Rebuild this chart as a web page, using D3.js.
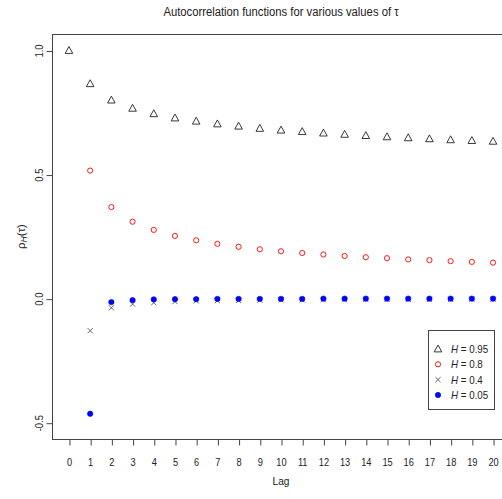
<!DOCTYPE html>
<html>
<head>
<meta charset="utf-8">
<script src="https://cdn.jsdelivr.net/npm/d3@7"></script>
<style>
  html, body { margin: 0; padding: 0; background: #fff; }
  svg { display: block; }
  text { font-family: "Liberation Sans Narrow", "Arial Narrow", "Liberation Sans", sans-serif; fill: #222; }
</style>
</head>
<body>
<script>
// ---- data ----
const lagsAll = [0,1,2,3,4,5,6,7,8,9,10,11,12,13,14,15,16,17,18,19,20];
const lags = [1,2,3,4,5,6,7,8,9,10,11,12,13,14,15,16,17,18,19,20];
const xTicks = [0,1,2,3,4,5,6,7,8,9,10,11,12,13,14,15,16,17,18,19,20];
const yTicks = [-0.5, 0.0, 0.5, 1.0];
const yTickLabels = ["-0.5", "0.0", "0.5", "1.0"];
const H095 = [1.000,0.866,0.800,0.767,0.745,0.728,0.715,0.704,0.695,0.686,0.679,0.673,0.667,0.662,0.657,0.652,0.648,0.644,0.640,0.637,0.634];
const H08  = [0.516,0.369,0.310,0.277,0.253,0.235,0.221,0.209,0.199,0.191,0.184,0.178,0.172,0.167,0.163,0.158,0.155,0.151,0.148,0.145];
const H04  = [-0.129,-0.037,-0.022,-0.016,-0.012,-0.009,-0.008,-0.007,-0.006,-0.005,-0.005,-0.004,-0.004,-0.003,-0.003,-0.003,-0.003,-0.003,-0.002,-0.002];
const H005 = [-0.464,-0.014,-0.006,-0.003,-0.002,-0.002,-0.001,-0.001,-0.001,-0.001,-0.001,0.000,0.000,0.000,0.000,0.000,0.000,0.000,0.000,0.000];
const legendLabels = ["0.95", "0.8", "0.4", "0.05"];
const title = "Autocorrelation functions for various values of \u03c4";
const xLabel = "Lag";

const W = 502, H = 499;
const plot = { left: 52, right: 510, top: 34, bottom: 439 };

const svg = d3.select("body").append("svg").attr("width", W).attr("height", H);

// narrow the glyphs horizontally (reference uses a condensed face)
function narrow(sel, f) {
  sel.each(function () {
    const len = this.getComputedTextLength();
    d3.select(this).attr("textLength", len * f).attr("lengthAdjust", "spacingAndGlyphs");
  });
}

const x = d3.scaleLinear().domain([-0.8, 20.8]).range([plot.left, plot.right]);
const y = d3.scaleLinear().domain([-0.5657, 1.0665]).range([plot.bottom, plot.top]);

// box
svg.append("rect")
  .attr("x", plot.left + 0.5).attr("y", plot.top + 0.5)
  .attr("width", plot.right - plot.left).attr("height", plot.bottom - plot.top)
  .attr("fill", "none").attr("stroke", "#444").attr("stroke-width", 1);

// x axis
const xAxis = svg.append("g").attr("transform", `translate(0,${plot.bottom + 0.5})`)
  .call(d3.axisBottom(x).tickValues(xTicks).tickSize(6).tickPadding(13).tickFormat(d3.format("d")));
xAxis.select(".domain").remove();
xAxis.selectAll(".tick line").attr("stroke", "#444").attr("transform", "translate(0.5,0)");
xAxis.selectAll(".tick text").attr("font-size", "11px").attr("fill", "#222")
  .attr("font-family", "Liberation Sans Narrow, Arial Narrow, Liberation Sans, sans-serif");
narrow(xAxis.selectAll(".tick text"), 0.84);

// y axis
const yAxis = svg.append("g").attr("transform", `translate(${plot.left + 0.5},0)`)
  .call(d3.axisLeft(y).tickValues(yTicks).tickSize(6).tickFormat((d, i) => yTickLabels[i]));
yAxis.select(".domain").remove();
yAxis.selectAll(".tick line").attr("stroke", "#444").attr("transform", "translate(0,0.5)");
yAxis.selectAll(".tick text").remove();
const yt = yAxis.selectAll(".tick").append("text")
  .attr("transform", "translate(-10,0) rotate(-90)")
  .attr("text-anchor", "middle")
  .attr("font-size", "11px")
  .attr("fill", "#222")
  .text((d, i) => yTickLabels[i]);
narrow(yt, 0.86);

// title
const tt = svg.append("text").attr("x", (plot.left + plot.right) / 2).attr("y", 16)
  .attr("text-anchor", "middle").attr("font-size", "12.5px").text(title);
narrow(tt, 0.9);

// x label
const xl = svg.append("text").attr("x", (plot.left + plot.right) / 2).attr("y", 485)
  .attr("text-anchor", "middle").attr("font-size", "11.5px").text(xLabel);
narrow(xl, 0.88);

// y label
const yl = svg.append("text")
  .attr("transform", `translate(25,${(plot.top + plot.bottom) / 2}) rotate(-90)`)
  .attr("text-anchor", "middle").attr("font-size", "11.5px");
yl.append("tspan").text("\u03c1");
yl.append("tspan").attr("font-style", "italic").attr("font-size", "8.5px").attr("dy", 2).text("H");
yl.append("tspan").attr("dy", -2).text("(\u03c4)");

// marker drawers
const tri = "M0,-4L3.8,2.9L-3.8,2.9Z";
const cross = "M-2.6,-2.6L2.6,2.6M-2.6,2.6L2.6,-2.6";

const g = svg.append("g");
g.selectAll("path.tri").data(H095).enter().append("path")
  .attr("class", "tri")
  .attr("transform", (d, i) => `translate(${x(lagsAll[i])},${y(d)})`)
  .attr("d", tri).attr("fill", "none").attr("stroke", "#222").attr("stroke-width", 0.9);

g.selectAll("circle.h08").data(H08).enter().append("circle")
  .attr("class", "h08")
  .attr("cx", (d, i) => x(lags[i])).attr("cy", d => y(d)).attr("r", 2.6)
  .attr("fill", "none").attr("stroke", "#ff0000").attr("stroke-width", 0.9);

g.selectAll("path.cr").data(H04).enter().append("path")
  .attr("class", "cr")
  .attr("transform", (d, i) => `translate(${x(lags[i])},${y(d)})`)
  .attr("d", cross).attr("fill", "none").attr("stroke", "#555").attr("stroke-width", 0.9);

g.selectAll("circle.h005").data(H005).enter().append("circle")
  .attr("class", "h005")
  .attr("cx", (d, i) => x(lags[i])).attr("cy", d => y(d)).attr("r", 2.7)
  .attr("fill", "#0000ff").attr("stroke", "#0000ff").attr("stroke-width", 0.6);

// legend
const lg = svg.append("g");
lg.append("rect").attr("x", 428.5).attr("y", 330.5).attr("width", 66).attr("height", 79)
  .attr("fill", "#fff").attr("stroke", "#444").attr("stroke-width", 1);
const ly = [349, 364.3, 379.6, 395];
const lx = 438;
lg.append("path").attr("transform", `translate(${lx},${ly[0]})`).attr("d", tri)
  .attr("fill", "none").attr("stroke", "#222").attr("stroke-width", 0.9);
lg.append("circle").attr("cx", lx).attr("cy", ly[1]).attr("r", 2.6)
  .attr("fill", "none").attr("stroke", "#ff0000").attr("stroke-width", 0.9);
lg.append("path").attr("transform", `translate(${lx},${ly[2]})`).attr("d", cross)
  .attr("fill", "none").attr("stroke", "#555").attr("stroke-width", 0.9);
lg.append("circle").attr("cx", lx).attr("cy", ly[3]).attr("r", 2.7)
  .attr("fill", "#0000ff").attr("stroke", "#0000ff").attr("stroke-width", 0.6);
legendLabels.forEach((lab, i) => {
  const t = lg.append("text").attr("x", 451).attr("y", ly[i] + 4).attr("font-size", "11.5px");
  t.append("tspan").attr("font-style", "italic").text("H");
  t.append("tspan").text(" = " + lab);
  narrow(t, 0.85);
});
</script>
</body>
</html>
